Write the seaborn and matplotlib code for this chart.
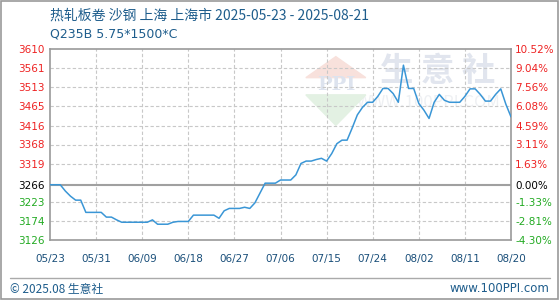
import matplotlib
matplotlib.use("Agg")
import matplotlib.pyplot as plt
import seaborn as sns
import numpy as np
import pandas as pd

# ---------------- data ----------------
title_line1 = "热轧板卷 沙钢 上海 上海市 2025-05-23 - 2025-08-21"
title_line2 = "Q235B 5.75*1500*C"
base_price = 3266

day_index = list(range(91))  # days since 2025-05-23
prices = [
    3266, 3266, 3266, 3250, 3237, 3227, 3227, 3196, 3196, 3196,
    3196, 3184, 3184, 3177, 3171, 3171, 3171, 3171, 3171, 3171,
    3177, 3166, 3166, 3166, 3171, 3173, 3173, 3173, 3189, 3189,
    3189, 3189, 3189, 3181, 3200, 3206, 3206, 3206, 3209, 3206,
    3220, 3245, 3270, 3270, 3270, 3278, 3278, 3278, 3291, 3320,
    3326, 3326, 3330, 3333, 3326, 3345, 3370, 3379, 3379, 3410,
    3443, 3462, 3475, 3475, 3490, 3510, 3510, 3497, 3475, 3569,
    3510, 3510, 3472, 3455, 3434, 3475, 3495, 3480, 3475, 3475,
    3475, 3490, 3509, 3509, 3495, 3478, 3478, 3495, 3509, 3470,
    3438,
]

y_tick_labels = ["3126", "3174", "3223", "3266", "3319", "3368",
                 "3416", "3465", "3513", "3561", "3610"]
pct_tick_labels = ["-4.30%", "-2.81%", "-1.33%", "0.00%", "1.63%", "3.11%",
                   "4.59%", "6.08%", "7.56%", "9.04%", "10.52%"]
x_tick_labels = ["05/23", "05/31", "06/09", "06/18", "06/27", "07/06",
                 "07/15", "07/24", "08/02", "08/11", "08/20"]
footer_left = "© 2025.08 生意社"
footer_right = "www.100PPI.com"

# ---------------- style ----------------
sns.set_theme(style="white")
plt.rcParams['font.family'] = ['Noto Sans CJK SC', 'DejaVu Sans']

df = pd.DataFrame({"day": day_index, "price": prices})

fig = plt.figure(figsize=(5.6, 3.0), dpi=100)
ax = fig.add_axes([50/560, 60/300, 461/560, 191/300])

y_ticks = [float(v) for v in y_tick_labels]
ymin, ymax = y_ticks[0], y_ticks[-1]
ax.set_ylim(ymin, ymax)
ax.set_xlim(0, 90)

# watermark
ax.text(0.84, 0.88, "生 意 社", transform=ax.transAxes, ha="center", va="center",
        fontsize=24, color="#e1e5ee", fontweight="bold", zorder=0)
ax.text(0.82, 0.72, "WWW.100PPI.COM", transform=ax.transAxes, ha="center",
        va="center", fontsize=12, color="#eef0f3", zorder=0)
ax.add_patch(plt.Polygon([[0.555, 0.85], [0.685, 0.85], [0.62, 0.96]], closed=True,
                         transform=ax.transAxes, color="#f8e1dc", zorder=0))
ax.add_patch(plt.Polygon([[0.555, 0.76], [0.685, 0.76], [0.62, 0.60]], closed=True,
                         transform=ax.transAxes, color="#e3f1e3", zorder=0))
ax.text(0.62, 0.81, "PPI", transform=ax.transAxes, ha="center", va="center",
        fontsize=14, color="#dde3ee", fontweight="bold", family="DejaVu Serif",
        zorder=0)

# grid
x_ticks = np.linspace(0, 90, len(x_tick_labels))
for xt in x_ticks[1:-1]:
    ax.axvline(xt, color="#c8c8c8", lw=0.8, ls=(0, (3, 2)), zorder=1)
for yt in y_ticks[1:-1]:
    if yt == base_price:
        continue
    ax.axhline(yt, color="#c8c8c8", lw=0.8, ls=(0, (3, 2)), zorder=1)
ax.axhline(base_price, color="#a0a0a0", lw=1.5, zorder=2)

sns.lineplot(data=df, x="day", y="price", ax=ax, color="#3a96d6", lw=1.1, zorder=3)

for s in ax.spines.values():
    s.set_color("#999999")
    s.set_linewidth(1.2)

def color_for(v):
    if v > base_price:
        return "#ee2222"
    if v < base_price:
        return "#22aa22"
    return "#000000"

ax.set_yticks(y_ticks)
ax.set_yticklabels(y_tick_labels, fontsize=7.5, family="DejaVu Sans")
for lab, v in zip(ax.get_yticklabels(), y_ticks):
    lab.set_color(color_for(v))
ax.set_xticks(x_ticks)
ax.set_xticklabels(x_tick_labels, fontsize=7.5, color="#1a4f7a", family="DejaVu Sans")
ax.tick_params(axis="both", length=0, pad=4)
ax.tick_params(axis="x", pad=10)
ax.set_xlabel("")
ax.set_ylabel("")

ax2 = ax.twinx()
ax2.set_ylim(ymin, ymax)
ax2.set_yticks(y_ticks)
ax2.set_yticklabels(pct_tick_labels, fontsize=7.5, family="DejaVu Sans")
for lab, v in zip(ax2.get_yticklabels(), y_ticks):
    lab.set_color(color_for(v))
ax2.tick_params(axis="y", length=0, pad=3)
for s in ax2.spines.values():
    s.set_visible(False)
ax2.grid(False)

# titles
fig.text(50/560, 1 - 16/300, title_line1, fontsize=10, color="#1e5d8c",
         va="center", ha="left")
fig.text(50/560, 1 - 34/300, title_line2, fontsize=9, color="#1e5d8c",
         va="center", ha="left", family="DejaVu Sans")

# footer
fig.add_artist(plt.Line2D([10/560, 550/560], [1 - 278/300, 1 - 278/300],
                          color="#aaaaaa", lw=1))
fig.text(10/560, 1 - 289/300, footer_left, fontsize=8.5, color="#1e5d8c",
         va="center", ha="left")
fig.text(549/560, 1 - 289/300, footer_right, fontsize=8.5, color="#1e5d8c",
         va="center", ha="right", family="DejaVu Sans")

# outer frame
fig.add_artist(plt.Rectangle((0.002, 0.003), 0.995, 0.994, fill=False,
                             edgecolor="#999999", lw=1.2, transform=fig.transFigure))

fig.savefig("out.png", dpi=100)
